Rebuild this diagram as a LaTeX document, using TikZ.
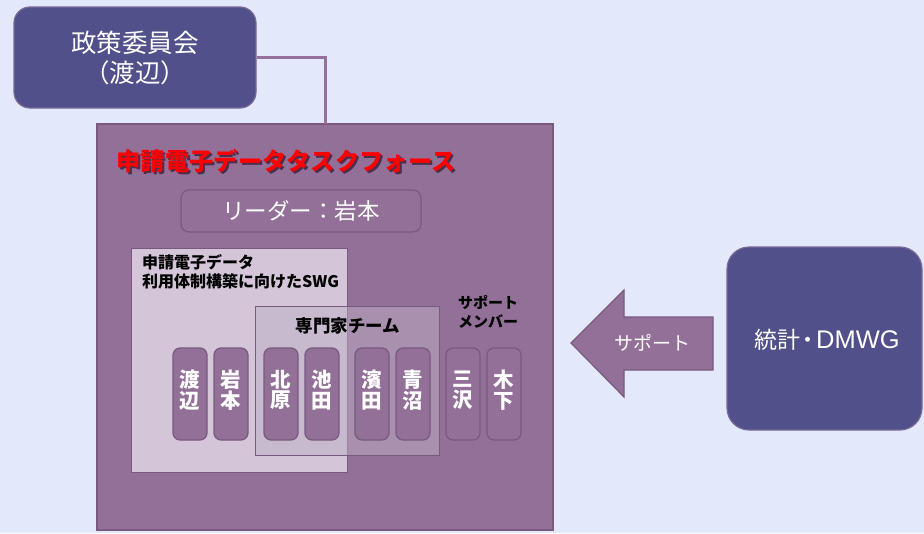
\documentclass[tikz,border=0pt]{standalone}
\usepackage{fontspec}
\newfontfamily\jp{Noto Sans CJK JP}
\newfontfamily\lat{Liberation Sans}
\definecolor{bgc}{HTML}{E4E8FB}
\definecolor{darkbox}{HTML}{51508A}
\definecolor{darkedge}{HTML}{7A6A96}
\definecolor{purp}{HTML}{937098}
\definecolor{purpedge}{HTML}{775A7E}
\definecolor{swgfill}{HTML}{D4C5D8}
\definecolor{expfill}{HTML}{BDB0C5}
\definecolor{linec}{HTML}{95709A}
\definecolor{shadowc}{HTML}{4A2F4E}
\tikzset{
  darkrbox/.style={draw=darkedge, line width=1.2pt, fill=darkbox, text=white, inner sep=0pt, align=center},
  purpbox/.style={draw=purpedge, line width=1.2pt, fill=purp, inner sep=0pt},
  member/.style={draw=purpedge, line width=1.2pt, fill=purp, rounded corners=7pt, minimum width=34pt, minimum height=92pt, inner sep=0pt},
  membertext/.style={text=white, inner sep=0pt, align=center, font=\jp\bfseries\fontsize{20.5}{20.5}\selectfont},
  blacklabel/.style={text=black, inner sep=0pt, font=\jp\bfseries\fontsize{16}{19}\selectfont},
}
\newcommand{\shadowtext}[1]{\makebox[0pt][l]{\hspace{2pt}\raisebox{-2.5pt}{\textcolor{shadowc}{#1}}}\textcolor{red}{#1}}
\begin{document}
\begin{tikzpicture}[x=1pt,y=-1pt]
\useasboundingbox (0,0) rectangle (924,533);
\fill[bgc] (0,0) rectangle (924,533);

% policy committee
\node[darkrbox, rounded corners=16pt, minimum width=242pt, minimum height=101pt,
      font=\jp\fontsize{25.5}{30}\selectfont] (pc) at (135,57.5) {政策委員会\\（渡辺）};

% task force box
\node[purpbox, minimum width=456pt, minimum height=406pt] (tf) at (325,327) {};
\coordinate (tfjoin) at (325,124);
\draw[linec, line width=3pt] (pc.east) -| (tfjoin);

% title (with drop shadow)
\node[inner sep=0pt, font=\jp\bfseries\fontsize{24.3}{28}\selectfont] (title) at (286,162) {\shadowtext{申請電子データタスクフォース}};

% leader
\node[purpbox, rounded corners=8pt, minimum width=240pt, minimum height=42pt, text=white,
      font=\jp\fontsize{22.5}{26}\selectfont] (leader) at (301,211) {リーダー：岩本};

% SWG
\node[draw=purpedge, line width=1pt, fill=swgfill, minimum width=216pt, minimum height=224pt, inner sep=0pt] (swg) at (239,360) {};
\node[blacklabel, anchor=north west, align=left] (swgtext) at (142,254) {申請電子データ\\利用体制構築に向けたSWG};

% expert team
\node[draw=purpedge, line width=1pt, fill=expfill, fill opacity=0.5, draw opacity=1, minimum width=184pt, minimum height=149pt, inner sep=0pt] (exp) at (347,380.5) {};
\node[blacklabel, font=\jp\bfseries\fontsize{17.5}{19}\selectfont] (exptitle) at (348,326) {専門家チーム};

% support member label
\node[blacklabel, align=center, font=\jp\bfseries\fontsize{15}{19}\selectfont] (suplabel) at (488,312) {サポート\\メンバー};

% members
\node[member] (m1) at (190,394) {};
\node[member] (m2) at (231,394) {};
\node[member] (m3) at (281,394) {};
\node[member] (m4) at (322,394) {};
\node[member] (m5) at (372,394) {};
\node[member] (m6) at (413,394) {};
\node[member] (m7) at (463,394) {};
\node[member] (m8) at (504,394) {};
\node[membertext] (m1t) at (190,390) {渡\\辺};
\node[membertext] (m2t) at (231,390) {岩\\本};
\node[membertext] (m3t) at (281,390) {北\\原};
\node[membertext] (m4t) at (322,390) {池\\田};
\node[membertext] (m5t) at (372,390) {濱\\田};
\node[membertext] (m6t) at (413,390) {青\\沼};
\node[membertext] (m7t) at (463,390) {三\\沢};
\node[membertext] (m8t) at (504,390) {木\\下};

% support arrow
\draw[draw=purpedge, line width=1.2pt, fill=purp]
  (571,343) -- (624,290) -- (624,317) -- (713,317) -- (713,370) -- (624,370) -- (624,397) -- cycle;
\node[text=white, inner sep=0pt, font=\jp\fontsize{19}{22}\selectfont] (arrowtext) at (652,343) {サポート};

% DMWG
\node[darkrbox, rounded corners=22pt, minimum width=195pt, minimum height=183pt] (dmwg) at (824.5,338.5) {};
\node[text=white, inner sep=0pt] (dmwgtext) at (827,340) {{\jp\fontsize{23}{25}\selectfont 統計}{\jp\fontsize{23}{25}\selectfont\hspace{-4pt}・\hspace{-3pt}}{\lat\fontsize{25.5}{26}\selectfont DMWG}};
\end{tikzpicture}
\end{document}
